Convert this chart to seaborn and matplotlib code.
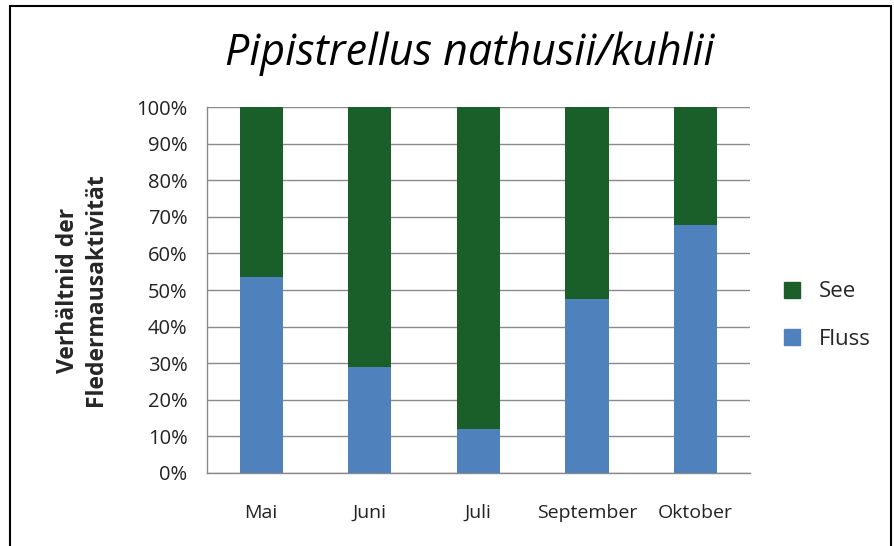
import matplotlib
matplotlib.use('Agg')
import matplotlib.pyplot as plt
import seaborn as sns
import pandas as pd
from matplotlib.ticker import PercentFormatter, FixedLocator
from matplotlib.lines import Line2D

months = ['Mai', 'Juni', 'Juli', 'September', 'Oktober']
fluss = [53.6, 29.0, 11.9, 47.5, 67.8]
see = [100 - v for v in fluss]

df = pd.DataFrame({'month': months, 'Fluss': fluss, 'See': see})
df['total'] = df['Fluss'] + df['See']

blue = '#4F81BD'
green = '#1A5F2A'

sns.set_style('white')
plt.rcParams['font.family'] = ['Open Sans', 'DejaVu Sans']

fig = plt.figure(figsize=(8.94, 5.46), dpi=100)
ax = fig.add_axes([0.2315, 0.1337, 0.607, 0.6703])

# grey gridlines behind the bars
ax.grid(axis='y', color='#8a8a8a', linewidth=1, zorder=0)
# full 100% bar (See) first, then Fluss on top of it
sns.barplot(x='month', y='total', data=df, color=green, width=0.4,
            saturation=1, linewidth=0, ax=ax, zorder=2)
sns.barplot(x='month', y='Fluss', data=df, color=blue, width=0.4,
            saturation=1, linewidth=0, ax=ax, zorder=3)

ax.set_ylim(0, 100)
ax.set_xlim(-0.5, 4.5)
ax.set_yticks(range(0, 101, 10))
ax.yaxis.set_major_formatter(PercentFormatter(decimals=0))
ax.set_xlabel('')
ax.set_ylabel('Verhältnid der\nFledermausaktivität', fontsize=16.5, fontweight='bold',
              labelpad=20, linespacing=1.25)
ax.tick_params(axis='x', labelsize=14, colors='#222222', length=0, pad=22)
ax.tick_params(axis='y', labelsize=14.5, colors='#222222', length=5, color='#8a8a8a',
               direction='out', pad=9)
ax.xaxis.set_minor_locator(FixedLocator([i + 0.5 for i in range(-1, 5)]))
ax.tick_params(axis='x', which='minor', length=5, color='#8a8a8a', direction='out')

for s in ['top', 'right']:
    ax.spines[s].set_visible(False)
for s in ['left', 'bottom']:
    ax.spines[s].set_color('#8a8a8a')
    ax.spines[s].set_linewidth(1)

ax.set_title('Pipistrellus nathusii/kuhlii', fontsize=31, style='italic', color='black',
             pad=30, x=0.485)

handles = [Line2D([0], [0], marker='s', linestyle='', markersize=11, color=green),
           Line2D([0], [0], marker='s', linestyle='', markersize=11, color=blue)]
ax.legend(handles, ['See', 'Fluss'], loc='center left', bbox_to_anchor=(1.0, 0.43),
          frameon=False, fontsize=16, handletextpad=0.2, labelspacing=1.2)

fig.add_artist(plt.Rectangle((0.011, -0.05), 0.986, 1.039, transform=fig.transFigure,
                             fill=False, edgecolor='black', linewidth=1.5))

fig.savefig('out.png', dpi=100)
